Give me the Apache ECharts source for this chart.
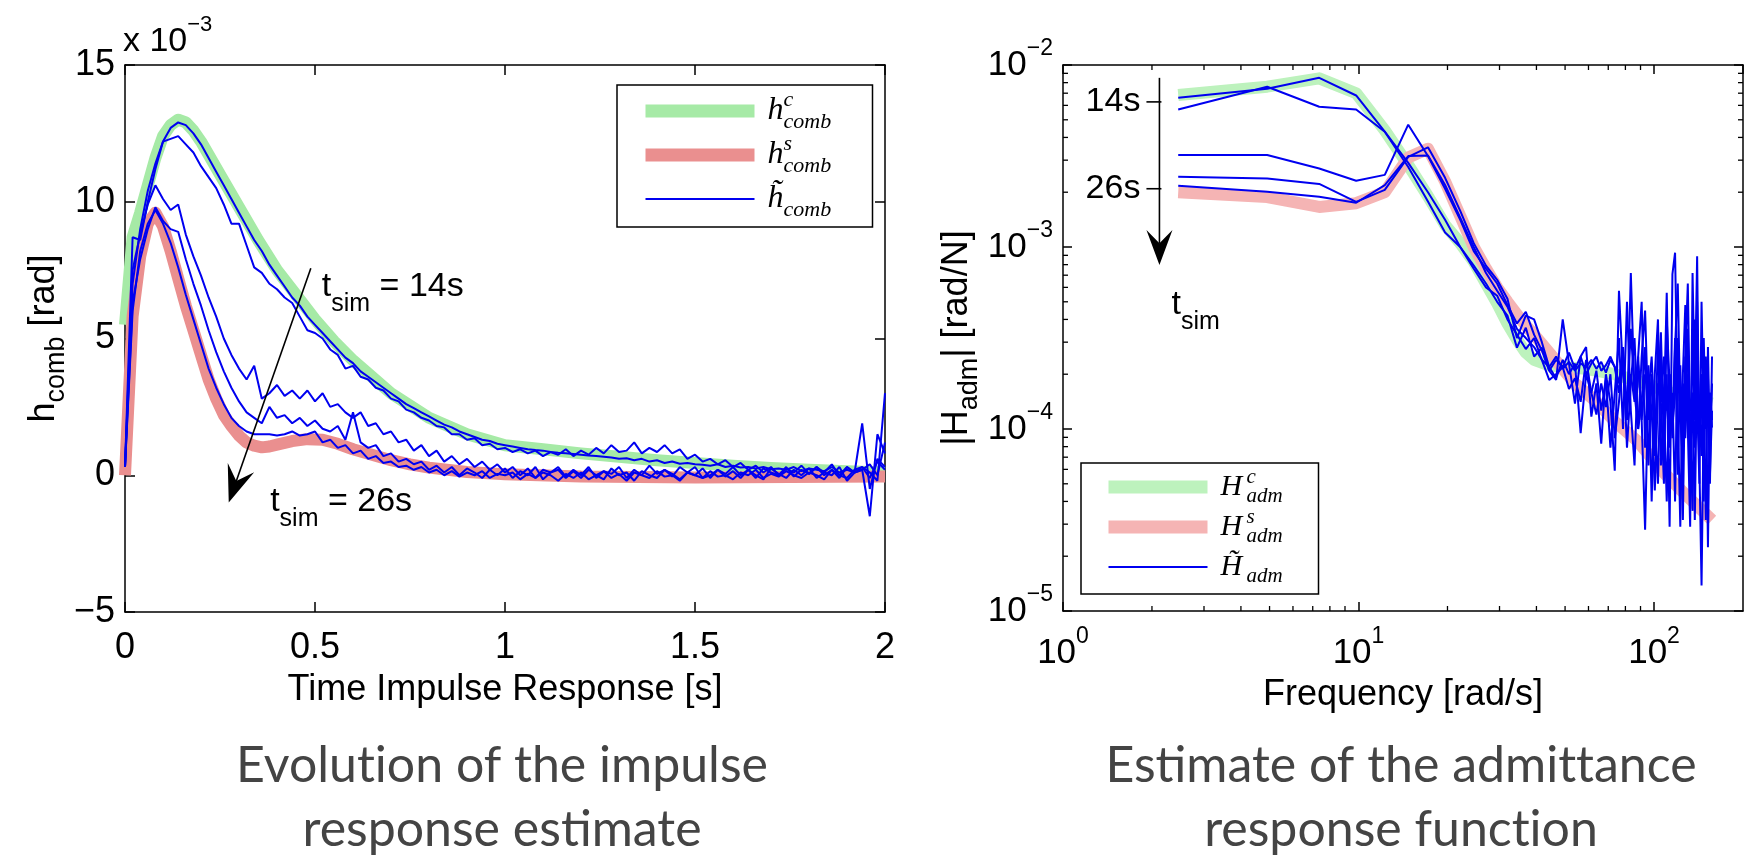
<!DOCTYPE html>
<html><head><meta charset="utf-8">
<script src="https://cdn.jsdelivr.net/npm/echarts@6/dist/echarts.min.js"></script>
<style>html,body{margin:0;padding:0;background:#fff;}#c{width:1748px;height:855px;}</style>
</head><body><div id="c"></div>
<script>
// ---------------- LEFT PLOT DATA (values in units of 1e-3 rad) ----------------
const tGrid = [0,0.02,0.04,0.06,0.08,0.1,0.12,0.14,0.16,0.18,0.2,0.22,0.24,0.26,0.28,0.3,0.32,0.34,0.36,0.38,
 0.4,0.42,0.44,0.46,0.48,0.5,0.52,0.54,0.56,0.58,0.6,0.62,0.64,0.66,0.68,0.7,0.72,0.74,0.76,0.78,
 0.8,0.82,0.84,0.86,0.88,0.9,0.92,0.94,0.96,0.98,1,1.02,1.04,1.06,1.08,1.1,1.12,1.14,1.16,1.18,
 1.2,1.22,1.24,1.26,1.28,1.3,1.32,1.34,1.36,1.38,1.4,1.42,1.44,1.46,1.48,1.5,1.52,1.54,1.56,1.58,
 1.6,1.62,1.64,1.66,1.68,1.7,1.72,1.74,1.76,1.78,1.8,1.82,1.84,1.86,1.88,1.9,1.92,1.94,1.96,1.98,2];

const hcT = [0,0.02,0.04,0.06,0.08,0.1,0.12,0.14,0.16,0.18,0.2,0.25,0.3,0.35,0.4,0.45,0.5,0.55,0.6,0.7,0.8,0.9,1.0,1.1,1.2,1.3,1.4,1.5,1.6,1.7,1.8,1.9,2.0];
const hcV = [5.5,8.7,9.6,10.6,11.6,12.4,12.8,13.0,12.9,12.6,12.2,11.0,9.8,8.6,7.5,6.6,5.7,4.9,4.2,3.0,2.1,1.5,1.1,0.95,0.8,0.68,0.55,0.45,0.35,0.27,0.2,0.15,0.1];

const hsT = [0,0.02,0.04,0.06,0.08,0.1,0.12,0.14,0.16,0.18,0.2,0.22,0.24,0.26,0.28,0.3,0.32,0.34,0.36,0.38,0.4,0.44,0.48,0.52,0.56,0.6,0.65,0.7,0.75,0.8,0.9,1.0,1.2,1.5,2.0];
const hsV = [0,5.8,8.0,9.2,9.6,9.1,8.2,7.2,6.2,5.3,4.4,3.5,2.8,2.2,1.8,1.45,1.2,1.08,1.02,1.05,1.12,1.25,1.32,1.3,1.15,0.95,0.75,0.55,0.4,0.28,0.12,0.04,-0.05,-0.08,-0.05];

const hEst1 = [0.3,7.0,9.0,10.4,11.4,12.2,12.7,12.9,12.8,12.5,
 12.1,11.6,11.1,10.6,10.1,9.6,9.1,8.6,8.2,7.7,
 7.3,6.9,6.5,6.2,5.8,5.5,5.2,4.9,4.6,4.3,
 4.1,3.8,3.6,3.4,3.2,3.0,2.8,2.6,2.45,2.3,
 2.15,2.0,1.85,1.75,1.6,1.5,1.4,1.3,1.25,1.15,
 1.1,1.05,1.0,0.95,0.92,0.9,0.85,0.82,0.8,0.78,
 0.75,0.72,0.7,0.68,0.65,0.6,0.62,0.55,0.6,0.5,
 0.55,0.45,0.5,0.42,0.45,0.4,0.38,0.35,0.4,0.3,
 0.35,0.28,0.3,0.25,0.3,0.22,0.25,0.2,0.3,0.15,
 0.25,0.2,0.15,0.3,0.1,0.2,0.1,0.3,-0.1,0.5,
 0.2];
const hEst2 = [0.3,8.7,8.6,10.0,11.2,12.2,12.3,12.4,12.1,11.8,
 11.3,10.9,10.5,9.9,9.2,9.2,8.4,7.6,7.4,7.0,
 6.8,6.5,6.3,5.8,5.3,5.2,5.0,4.6,4.4,3.9,
 4.0,3.6,3.5,3.2,3.1,2.8,2.7,2.4,2.3,2.1,
 2.0,1.8,1.75,1.5,1.5,1.3,1.35,1.1,1.15,0.95,
 1.0,0.85,0.95,0.8,0.9,0.7,0.85,0.75,0.95,0.7,
 0.9,0.75,1.0,0.8,1.1,0.85,0.9,1.2,0.8,1.0,
 0.85,1.1,0.8,0.95,0.6,0.75,0.5,0.6,0.4,0.55,
 0.3,0.45,0.2,0.35,0.1,0.3,0.0,0.25,0.1,0.35,
 0.05,0.3,0.1,0.4,0.0,0.3,0.1,0.2,0.4,0.0,
 1.2];
const hEst3 = [0.3,7.5,8.8,9.9,10.6,10.1,9.7,9.9,8.8,8.0,
 7.3,6.5,5.8,5.0,4.4,3.9,3.5,4.0,2.8,3.0,
 3.3,2.9,3.1,2.8,3.1,2.7,3.0,2.5,2.6,2.3,
 2.1,2.3,1.8,1.9,1.5,1.6,1.2,1.3,0.9,1.1,
 0.7,0.9,0.5,0.7,0.4,0.6,0.3,0.5,0.2,0.4,
 0.1,0.3,0.0,0.25,-0.1,0.2,0.1,0.3,-0.05,0.2,
 0.0,0.3,-0.1,0.15,0.05,0.3,-0.1,0.2,0.0,0.35,
 0.05,0.2,-0.05,0.3,0.1,0.0,0.25,-0.1,0.2,0.05,
 0.3,0.0,0.2,-0.1,0.25,0.1,0.0,0.3,-0.05,0.2,
 0.05,0.3,0.0,0.2,-0.1,0.3,0.1,1.9,-0.5,0.6,
 0.3];
const hEst4 = [0.3,6.3,7.9,9.0,9.8,9.3,9.0,8.9,7.9,7.0,
 6.2,5.3,4.5,3.8,3.2,2.7,2.3,2.1,1.9,2.5,
 2.1,2.2,1.9,2.1,1.8,2.0,1.7,1.6,1.8,1.3,
 2.3,1.2,1.0,1.1,0.7,0.8,0.5,0.6,0.4,0.5,
 0.2,0.35,0.1,0.3,0.0,0.25,0.1,-0.1,0.2,0.0,
 0.25,-0.1,0.15,0.0,0.3,-0.15,0.1,0.2,-0.1,0.15,
 -0.1,0.2,0.0,-0.15,0.25,0.0,0.1,-0.2,0.15,0.0,
 -0.1,0.2,0.05,-0.15,0.1,0.3,-0.1,0.0,0.2,-0.05,
 0.15,-0.1,0.2,0.0,-0.15,0.25,0.05,-0.1,0.2,0.0,
 0.25,-0.1,0.1,0.0,0.3,-0.2,0.1,0.2,-1.5,1.5,
 0.8];
const hEst5 = [0.3,6.0,8.2,9.2,9.7,9.2,8.5,7.6,6.6,5.7,
 4.8,3.9,3.2,2.6,2.1,1.8,1.6,1.5,1.5,1.5,
 1.45,1.5,1.6,1.45,1.5,1.6,1.2,1.3,1.0,1.1,
 0.8,0.9,0.6,0.7,0.45,0.5,0.3,0.35,0.2,0.3,
 0.1,0.2,0.0,0.15,-0.05,0.1,0.0,0.15,-0.1,0.05,
 0.0,0.1,-0.15,0.05,-0.1,0.1,0.0,-0.2,0.05,-0.1,
 0.1,-0.15,0.0,0.15,-0.1,0.05,-0.2,0.1,0.0,-0.1,
 0.15,-0.05,0.0,-0.2,0.1,0.0,-0.1,0.15,-0.05,0.0,
 -0.15,0.1,0.0,0.2,-0.1,0.05,-0.05,0.15,0.0,-0.1,
 0.1,0.0,-0.15,0.2,0.0,-0.1,0.2,0.3,0.1,-0.2,
 3.0];

const leftXTicks = [0, 0.5, 1, 1.5, 2];
const leftYTicks = [-5, 0, 5, 10, 15];

// ---------------- RIGHT PLOT DATA (rad/N vs rad/s) ----------------
const freqGrid = [2.454,4.909,7.363,9.817,12.27,14.73,17.18,19.63,22.09,24.54,27.0,29.45,31.91,34.36,36.82,39.27,
 41.72,44.18,46.63,49.09,51.54,54.0,56.45,58.9,61.36,63.81,66.27,68.72,71.18,73.63,76.09,78.54,
 80.99,83.45,85.9,88.36,90.81,93.27,95.72,98.17,100.6,103.1,105.5,108.0,110.4,112.9,115.4,117.8,
 120.3,122.7,125.2,127.6,130.1,132.5,135.0,137.4,139.9,142.4,144.8,147.3,149.7,152.2,154.6,157.1];

const HcF = [2.454,4.909,7.363,9.817,12.27,14.73,17.18,19.63,22.09,24.54,27.0,29.45,31.91,34.36,36.82,39.27,44.18,49.09,58.9,73.63,98.17,108.0,127.6,157.1];
const HcV = [6.84e-3,7.6e-3,8.45e-3,7.0e-3,4.37e-3,2.82e-3,1.9e-3,1.32e-3,1.05e-3,8.3e-4,6.3e-4,4.9e-4,3.8e-4,3.1e-4,2.63e-4,2.4e-4,2.24e-4,2.19e-4,2.14e-4,2.0e-4,1.74e-4,1.62e-4,1.51e-4,1.38e-4];

const HsF = [2.454,4.909,7.363,9.817,12.27,14.73,17.18,19.63,22.09,24.54,27.0,29.45,31.91,34.36,36.82,39.27,44.18,49.09,54.0,63.81,73.63,88.36,108.0,127.6,157.1];
const HsV = [2.0e-3,1.88e-3,1.66e-3,1.74e-3,2.0e-3,3.1e-3,3.47e-3,2.29e-3,1.48e-3,1.0e-3,7.6e-4,6.0e-4,5.0e-4,4.27e-4,3.7e-4,3.3e-4,2.63e-4,2.14e-4,1.78e-4,1.41e-4,1.1e-4,8.5e-5,5.75e-5,4.37e-5,3.16e-5];

const HEst1 = [6.6e-3,7.4e-3,8.5e-3,6.8e-3,4.3e-3,2.75e-3,1.78e-3,1.2e-3,1.0e-3,7.6e-4,6.0e-4,5.4e-4,4.0e-4,3.3e-4,2.75e-4,3.16e-4,
 2.4e-4,2.19e-4,2.5e-4,2.14e-4,2.34e-4,2.09e-4,2.29e-4,2.19e-4,2.4e-4,2.14e-4,2.34e-4,2.04e-4,2.4e-4,2.19e-4,
 1.58e-4,2.5e-4,1.26e-4,2.0e-4,1.41e-4,2.24e-4,1.12e-4,2.0e-4,1.58e-4,2.5e-4,1.0e-4,1.78e-4,1.41e-4,2.5e-4,1.26e-4,2.0e-4,
 1.0e-4,1.58e-4,2.24e-4,1.12e-4,1.78e-4,8.9e-5,2.0e-4,1.26e-4,1.58e-4,7.9e-5,1.78e-4,1.12e-4,2.0e-4,1.0e-4,1.41e-4,1.26e-4,1.58e-4,1.12e-4];
const HEst2 = [5.7e-3,7.6e-3,5.9e-3,5.7e-3,4.3e-3,2.9e-3,2.0e-3,1.41e-3,1.0e-3,7.9e-4,6.3e-4,5.0e-4,4.2e-4,2.8e-4,3.6e-4,2.5e-4,
 2.8e-4,2.09e-4,2.4e-4,2.19e-4,2.63e-4,2.14e-4,2.5e-4,2.0e-4,2.29e-4,2.5e-4,2.09e-4,2.24e-4,2.5e-4,2.19e-4,
 1.78e-4,2.82e-4,1.26e-4,3.55e-4,1.58e-4,1.0e-4,2.5e-4,4.47e-4,1.12e-4,2.0e-4,7.1e-5,3.16e-4,1.41e-4,5.0e-5,3.98e-4,1.78e-4,
 8.9e-5,2.82e-4,6.3e-4,1.26e-4,6.3e-5,2.5e-4,1.58e-4,4.5e-5,3.16e-4,1.12e-4,5.0e-4,7.9e-5,2.0e-4,4.0e-5,2.5e-4,1.41e-4,5.6e-5,1.26e-4];
const HEst3 = [3.2e-3,3.2e-3,2.7e-3,2.31e-3,2.49e-3,4.7e-3,3.16e-3,2.09e-3,1.41e-3,9.5e-4,7.6e-4,6.3e-4,4.8e-4,3.8e-4,4.4e-4,3.3e-4,
 2.7e-4,2.09e-4,1.86e-4,4.0e-4,2.29e-4,1.38e-4,2.5e-4,2.82e-4,1.17e-4,1.78e-4,8.3e-5,2.0e-4,1.41e-4,5.9e-5,
 5.75e-4,2.0e-4,1.12e-4,7.2e-4,1.58e-4,2.5e-4,1.12e-4,2.8e-5,1.78e-4,1.26e-4,4.6e-5,1.58e-4,3.4e-4,7.9e-5,2.0e-4,2.9e-5,
 7.1e-4,9.3e-4,1.26e-4,2.9e-5,2.0e-4,4.8e-4,1.0e-4,2.9e-5,7.2e-4,1.58e-4,8.9e-4,6.3e-5,1.38e-5,1.26e-4,2.14e-4,2.24e-5,1.58e-4,1.02e-4];
const HEst4 = [2.43e-3,2.38e-3,2.22e-3,1.77e-3,2.06e-3,3.13e-3,3.53e-3,2.4e-3,1.58e-3,1.05e-3,7.9e-4,6.6e-4,5.2e-4,3.16e-4,4.2e-4,4.0e-4,
 3.0e-4,2.19e-4,1.9e-4,2.4e-4,2.0e-4,2.29e-4,9.5e-5,2.0e-4,1.58e-4,2.09e-4,1.26e-4,1.9e-4,7.9e-5,1.58e-4,
 3.16e-4,1.0e-4,5.0e-4,1.26e-4,6.3e-5,2.5e-4,5.0e-4,7.9e-5,2.24e-4,4.0e-5,2.0e-4,4.0e-4,6.3e-5,1.26e-4,5.6e-4,7.9e-5,
 1.58e-4,4.0e-5,3.16e-4,1.58e-4,3.16e-5,2.5e-4,6.3e-4,1.0e-4,3.55e-5,4.0e-4,1.41e-4,5.0e-5,5.0e-4,1.12e-4,3.16e-5,2.82e-4,7.9e-5,1.78e-4];
const HEst5 = [2.17e-3,2.01e-3,1.89e-3,1.75e-3,2.19e-3,3.16e-3,3.18e-3,2.19e-3,1.45e-3,1.0e-3,7.2e-4,5.75e-4,4.7e-4,3.55e-4,3.16e-4,2.82e-4,
 2.4e-4,1.86e-4,2.0e-4,2.19e-4,1.66e-4,1.9e-4,1.41e-4,2.4e-4,1.58e-4,1.2e-4,1.78e-4,1.32e-4,2.0e-4,8.9e-5,
 1.41e-4,2.5e-4,7.9e-5,1.78e-4,3.16e-4,1.0e-4,1.41e-4,2.82e-4,6.3e-5,2.0e-4,1.12e-4,5.0e-5,2.5e-4,1.41e-4,4.0e-5,2.0e-4,
 1.0e-4,3.16e-4,5.6e-5,2.24e-4,7.9e-5,1.26e-4,3.55e-4,6.3e-5,1.58e-4,3.16e-5,2.5e-4,1.26e-4,7.1e-5,3.16e-4,1.0e-4,2.0e-4,5.0e-5,2.5e-4];

const rightXMinor = [2,3,4,5,6,7,8,9,20,30,40,50,60,70,80,90];
const rightYMinor = [2e-5,3e-5,4e-5,5e-5,6e-5,7e-5,8e-5,9e-5,2e-4,3e-4,4e-4,5e-4,6e-4,7e-4,8e-4,9e-4,2e-3,3e-3,4e-3,5e-3,6e-3,7e-3,8e-3,9e-3];

// captions: words split into separate rich-text runs where Lato would otherwise form "ti"/"tt" ligatures
const captionLeft = '{c|Evolut}{c|ion of the impulse}\n{c|response estimate}';
const captionRight = '{c|Estimate of the admit}{c|tance}\n{c|response funct}{c|ion}';

// ---------------- CHART ----------------
const SANS = '"Liberation Sans", Arial, Helvetica, sans-serif';
const SERIF = '"Liberation Serif", "Times New Roman", serif';
const BLUE = '#0000f0';
const GREEN_L = '#a6eaa6', RED_L = '#ea8f8f';
const GREEN_R = '#bdf2bd', RED_R = '#f5b4b4';

const pairs = (xs, ys) => xs.map((x, i) => [x, ys[i]]);
const chart = echarts.init(document.getElementById('c'));

const axLine = {show: true, onZero: false, lineStyle: {color: '#000', width: 1.5}};
const tickIn = len => ({show: true, inside: true, length: len, lineStyle: {color: '#000', width: 1.5}});
const noSplit = {show: false};

const powLabel = (v) => {
  const l = Math.log10(v), e = Math.round(l);
  if (Math.abs(l - e) > 1e-6) return '';
  return '{b|10}{e|' + (e < 0 ? '\u2212' + (-e) : e) + '}';
};
const powRich = {
  b: {fontFamily: SANS, fontSize: 35, color: '#000', lineHeight: 56},
  e: {fontFamily: SANS, fontSize: 23, color: '#000', lineHeight: 23, verticalAlign: 'top'}
};

const legendRich = (big, small, lh, wm, wb) => ({
  g: {width: 8, fontSize: 10},
  m: {fontFamily: SERIF, fontStyle: 'italic', fontSize: big, color: '#000', lineHeight: lh, width: wm},
  p: {fontFamily: SERIF, fontStyle: 'italic', fontSize: small, color: '#000', lineHeight: small + 2, verticalAlign: 'top', width: 0},
  b: {fontFamily: SERIF, fontStyle: 'italic', fontSize: small, color: '#000', lineHeight: small + 2, verticalAlign: 'bottom', width: wb}
});

const leftLegendText = {hc: '{g| }{m|h}{p|c}{b|comb}', hs: '{g| }{m|h}{p|s}{b|comb}', ht: '{g| }{m|h\u0303}{p| }{b|comb}'};
const rightLegendText = {Hc: '{g| }{m|H}{p|c}{b|adm}', Hs: '{g| }{m|H}{p|s}{b|adm}', Ht: '{g| }{m|H\u0303}{p| }{b|adm}'};

const series = [];
series.push({type: 'line', name: 'hc', xAxisIndex: 0, yAxisIndex: 0, data: pairs(hcT, hcV), symbol: 'none',
  lineStyle: {color: GREEN_L, width: 12, join: 'round'}, itemStyle: {color: GREEN_L}, z: 2});
series.push({type: 'line', name: 'hs', xAxisIndex: 0, yAxisIndex: 0, data: pairs(hsT, hsV), symbol: 'none',
  lineStyle: {color: RED_L, width: 12, join: 'round'}, itemStyle: {color: RED_L}, z: 2});
[hEst1, hEst2, hEst3, hEst4, hEst5].forEach(v => series.push({type: 'line', name: 'ht', xAxisIndex: 0, yAxisIndex: 0,
  data: pairs(tGrid, v), symbol: 'none', lineStyle: {color: BLUE, width: 2}, itemStyle: {color: BLUE}, z: 3}));
series.push({type: 'line', name: 'Hc', xAxisIndex: 2, yAxisIndex: 2, data: pairs(HcF, HcV), symbol: 'none',
  lineStyle: {color: GREEN_R, width: 12, join: 'round'}, itemStyle: {color: GREEN_R}, z: 2});
series.push({type: 'line', name: 'Hs', xAxisIndex: 2, yAxisIndex: 2, data: pairs(HsF, HsV), symbol: 'none',
  lineStyle: {color: RED_R, width: 12, join: 'round'}, itemStyle: {color: RED_R}, z: 2});
[HEst1, HEst2, HEst3, HEst4, HEst5].forEach(v => series.push({type: 'line', name: 'Ht', xAxisIndex: 2, yAxisIndex: 2,
  data: pairs(freqGrid, v), symbol: 'none', lineStyle: {color: BLUE, width: 2}, itemStyle: {color: BLUE}, z: 3}));

// minor ticks of the log axes (all four sides, inside)
series.push({type: 'custom', xAxisIndex: 2, yAxisIndex: 2, silent: true, z: 10,
  data: rightXMinor.map(v => [v, 1e-5]),
  renderItem: (params, api) => {
    const v = api.value(0);
    const b = api.coord([v, 1e-5]), t = api.coord([v, 1e-2]);
    return {type: 'group', children: [
      {type: 'line', shape: {x1: b[0], y1: b[1], x2: b[0], y2: b[1] - 5}, style: {stroke: '#000', lineWidth: 1.3}},
      {type: 'line', shape: {x1: t[0], y1: t[1], x2: t[0], y2: t[1] + 5}, style: {stroke: '#000', lineWidth: 1.3}}
    ]};
  }});
series.push({type: 'custom', xAxisIndex: 2, yAxisIndex: 2, silent: true, z: 10,
  data: rightYMinor.map(v => [1, v]),
  renderItem: (params, api) => {
    const v = api.value(1);
    const l = api.coord([1, v]), r = api.coord([200, v]);
    return {type: 'group', children: [
      {type: 'line', shape: {x1: l[0], y1: l[1], x2: l[0] + 5, y2: l[1]}, style: {stroke: '#000', lineWidth: 1.3}},
      {type: 'line', shape: {x1: r[0], y1: r[1], x2: r[0] - 5, y2: r[1]}, style: {stroke: '#000', lineWidth: 1.3}}
    ]};
  }});

const noDot = {opacity: 0, color: 'rgba(0,0,0,0)', borderWidth: 0};
const capRich = {c: {fontFamily: 'Lato', fontSize: 50, lineHeight: 64, color: '#444', fontWeight: 'normal'}};

const option = {
  animation: false,
  backgroundColor: '#fff',
  title: [
    {text: '{a|x 10}{e|\u22123}', left: 123, top: 14, padding: 0,
     textStyle: {fontWeight: 'normal', rich: {
       a: {fontFamily: SANS, fontSize: 34, fontWeight: 'normal', color: '#000', lineHeight: 56},
       e: {fontFamily: SANS, fontSize: 22, fontWeight: 'normal', color: '#000', lineHeight: 14, verticalAlign: 'top'}}}},
    {text: captionLeft, left: 502, top: 734, textAlign: 'center', padding: 0,
     textStyle: {fontFamily: 'Lato', fontSize: 50, lineHeight: 64, color: '#444', fontWeight: 'normal', rich: capRich}},
    {text: captionRight, left: 1401, top: 734, textAlign: 'center', padding: 0,
     textStyle: {fontFamily: 'Lato', fontSize: 50, lineHeight: 64, color: '#444', fontWeight: 'normal', rich: capRich}}
  ],
  grid: [
    {left: 125, top: 65, width: 760, height: 547, outerBoundsMode: 'none'},
    {left: 1063, top: 65, width: 680, height: 546, outerBoundsMode: 'none'}
  ],
  legend: [
    {left: 617, top: 85, orient: 'vertical', padding: [4, 9, 6, 22], itemWidth: 109, itemHeight: 14, itemGap: 0,
     borderColor: '#000', borderWidth: 1.5, backgroundColor: '#fff', selectedMode: false, z: 20,
     data: [{name: 'hc', lineStyle: {width: 13}, itemStyle: noDot},
            {name: 'hs', lineStyle: {width: 13}, itemStyle: noDot},
            {name: 'ht', lineStyle: {width: 2}, itemStyle: noDot}],
     formatter: n => leftLegendText[n],
     textStyle: {rich: legendRich(32, 22, 44, 16, 80)}},
    {left: 1081, top: 463, orient: 'vertical', padding: [4, 12, 7, 21], itemWidth: 99, itemHeight: 14, itemGap: 0,
     borderColor: '#000', borderWidth: 1.5, backgroundColor: '#fff', selectedMode: false, z: 20,
     data: [{name: 'Hc', lineStyle: {width: 13}, itemStyle: noDot},
            {name: 'Hs', lineStyle: {width: 13}, itemStyle: noDot},
            {name: 'Ht', lineStyle: {width: 2}, itemStyle: noDot}],
     formatter: n => rightLegendText[n],
     textStyle: {rich: legendRich(30, 21, 40, 26, 60)}}
  ],
  xAxis: [
    {gridIndex: 0, type: 'value', min: leftXTicks[0], max: leftXTicks[4], interval: 0.5, position: 'bottom',
     axisLine: axLine, axisTick: tickIn(10), splitLine: noSplit,
     axisLabel: {fontFamily: SANS, fontSize: 36, color: '#000', margin: 18},
     name: 'Time Impulse Response [s]', nameLocation: 'middle', nameGap: 60,
     nameTextStyle: {fontFamily: SANS, fontSize: 36, color: '#000'}},
    {gridIndex: 0, type: 'value', min: leftXTicks[0], max: leftXTicks[4], interval: 0.5, position: 'top',
     axisLine: axLine, axisTick: tickIn(10), splitLine: noSplit, axisLabel: {show: false}},
    {gridIndex: 1, type: 'log', logBase: 10, min: 1, max: 200, position: 'bottom',
     axisLine: axLine, axisTick: tickIn(9), splitLine: noSplit, minorTick: {show: false},
     axisLabel: {formatter: powLabel, rich: powRich, margin: 14, showMaxLabel: false},
     name: 'Frequency [rad/s]', nameLocation: 'middle', nameGap: 66,
     nameTextStyle: {fontFamily: SANS, fontSize: 36, color: '#000'}},
    {gridIndex: 1, type: 'log', logBase: 10, min: 1, max: 200, position: 'top',
     axisLine: axLine, axisTick: tickIn(9), splitLine: noSplit, axisLabel: {show: false}}
  ],
  yAxis: [
    {gridIndex: 0, type: 'value', min: leftYTicks[0], max: leftYTicks[4], interval: 5, position: 'left',
     axisLine: axLine, axisTick: tickIn(10), splitLine: noSplit,
     axisLabel: {fontFamily: SANS, fontSize: 36, color: '#000', margin: 10,
                 formatter: v => v < 0 ? '\u2212' + (-v) : String(v)},
     name: '{m|h}{s|comb}{m| [rad]}', nameLocation: 'middle', nameGap: 52,
     nameTextStyle: {rich: {m: {fontFamily: SANS, fontSize: 36, color: '#000', lineHeight: 52},
                             s: {fontFamily: SANS, fontSize: 27, color: '#000', lineHeight: 27, verticalAlign: 'bottom'}}}},
    {gridIndex: 0, type: 'value', min: leftYTicks[0], max: leftYTicks[4], interval: 5, position: 'right',
     axisLine: axLine, axisTick: tickIn(10), splitLine: noSplit, axisLabel: {show: false}},
    {gridIndex: 1, type: 'log', logBase: 10, min: 1e-5, max: 1e-2, position: 'left',
     axisLine: axLine, axisTick: tickIn(9), splitLine: noSplit,
     axisLabel: {formatter: powLabel, rich: powRich, margin: 10},
     name: '{m||H}{s|adm}{m|| [rad/N]}', nameLocation: 'middle', nameGap: 80,
     nameTextStyle: {rich: {m: {fontFamily: SANS, fontSize: 36, color: '#000', lineHeight: 52},
                             s: {fontFamily: SANS, fontSize: 27, color: '#000', lineHeight: 27, verticalAlign: 'bottom'}}}},
    {gridIndex: 1, type: 'log', logBase: 10, min: 1e-5, max: 1e-2, position: 'right',
     axisLine: axLine, axisTick: tickIn(9), splitLine: noSplit, axisLabel: {show: false}}
  ],
  series: series
};
chart.setOption(option);

// ---------------- ANNOTATIONS (anchored to data coordinates) ----------------
const PL = (x, y) => chart.convertToPixel({xAxisIndex: 0, yAxisIndex: 0}, [x, y]);
const PR = (x, y) => chart.convertToPixel({xAxisIndex: 2, yAxisIndex: 2}, [x, y]);

function arrow(p0, p1, L, W) {
  const dx = p1[0] - p0[0], dy = p1[1] - p0[1], len = Math.hypot(dx, dy);
  const ux = dx / len, uy = dy / len, nx = -uy, ny = ux;
  const bx = p1[0] - ux * L, by = p1[1] - uy * L;
  const mx = p1[0] - ux * L * 0.62, my = p1[1] - uy * L * 0.62;
  return [
    {type: 'line', shape: {x1: p0[0], y1: p0[1], x2: mx, y2: my}, style: {stroke: '#000', lineWidth: 1.6}, z: 30},
    {type: 'polygon', shape: {points: [[p1[0], p1[1]], [bx + nx * W / 2, by + ny * W / 2], [mx, my], [bx - nx * W / 2, by - ny * W / 2]]},
     style: {fill: '#000'}, z: 30}
  ];
}
const annRich = {
  t: {fontFamily: SANS, fontSize: 34, color: '#000', lineHeight: 60},
  s: {fontFamily: SANS, fontSize: 25, color: '#000', lineHeight: 25, verticalAlign: 'bottom'}
};
const tsimText = (p, txt) => ({type: 'text', x: p[0], y: p[1], z: 30,
  style: {text: '{t|t}{s|sim}{t|' + txt + '}', rich: annRich, align: 'left', verticalAlign: 'middle'}});

const graphics = [];
// left panel
arrow(PL(0.489, 7.57), PL(0.273, -1.0), 37, 28).forEach(g => graphics.push(g));
graphics.push(tsimText(PL(0.518, 6.9), ' = 14s'));
graphics.push(tsimText(PL(0.382, -0.95), ' = 26s'));
// right panel
const aTop = PR(2.12, 8.5e-3), aTip = PR(2.12, 7.96e-4);
arrow(aTop, aTip, 35, 26).forEach(g => graphics.push(g));
[[6.27e-3, '14s'], [2.09e-3, '26s']].forEach(([v, s]) => {
  const p = PR(2.12, v);
  graphics.push({type: 'line', shape: {x1: p[0] - 13, y1: p[1], x2: p[0] + 2, y2: p[1]}, style: {stroke: '#000', lineWidth: 1.6}, z: 30});
  graphics.push({type: 'text', x: p[0] - 19, y: p[1], z: 30,
    style: {text: s, fontFamily: SANS, fontSize: 34, fill: '#000', align: 'right', verticalAlign: 'middle'}});
});
graphics.push(tsimText(PR(2.33, 4.8e-4), ''));
chart.setOption({graphic: graphics});
</script></body></html>
